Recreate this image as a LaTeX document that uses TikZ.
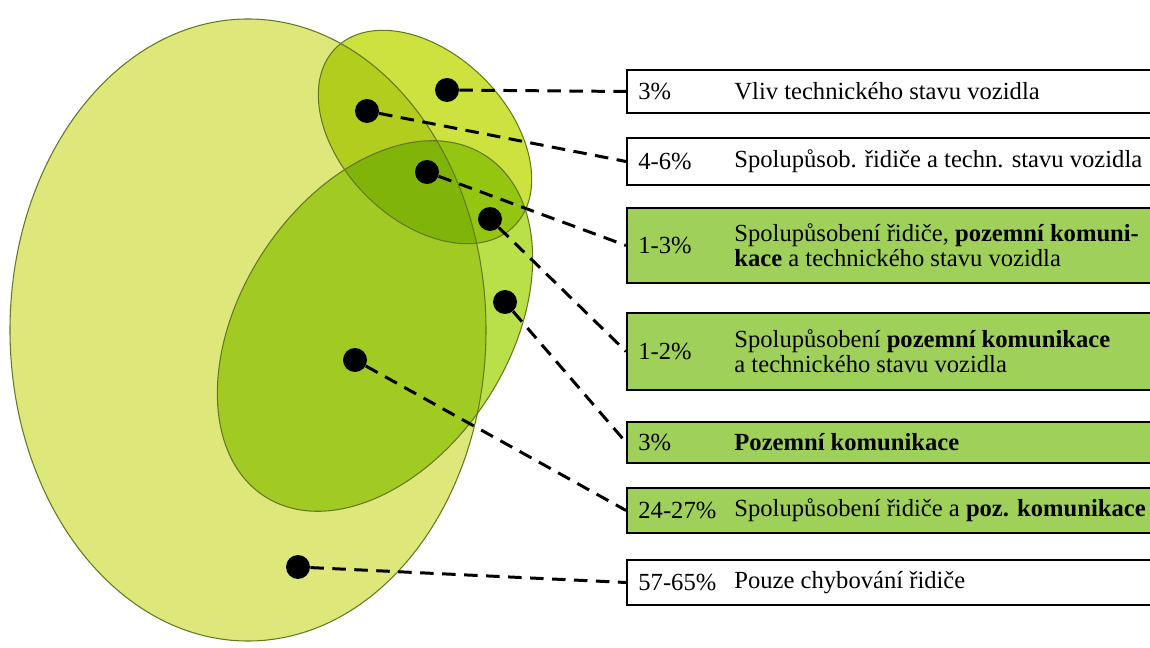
\documentclass[tikz,border=0pt]{standalone}
\usepackage{fontspec}
\setmainfont{Liberation Serif}
\usepackage{xcolor}
\usepackage{tikz}
\usetikzlibrary{positioning, calc}
\definecolor{driverfill}{RGB}{222, 232, 122}
\definecolor{vehiclefill}{RGB}{205, 226, 62}
\definecolor{roadfill}{RGB}{185, 224, 72}
\definecolor{setedge}{RGB}{100, 120, 35}
\definecolor{boxgreen}{RGB}{158, 208, 90}
\newcommand{\boxfont}{\fontsize{14pt}{14.4pt}\selectfont}
\tikzstyle{setline} = [draw=setedge, line width=0.6pt]
\tikzstyle{spot} = [circle, fill=black, minimum size=0.48cm, inner sep=0pt]
\tikzstyle{share} = [rectangle, draw=black, line width=1.1pt, minimum width=10.86cm, inner sep=0pt]
\tikzstyle{pct} = [anchor=west, inner sep=0pt, font=\boxfont]
\tikzstyle{desc} = [anchor=west, inner sep=0pt, align=left, font=\boxfont]
\tikzstyle{leader} = [dash pattern=on 0.27cm off 0.17cm, line width=1.7pt]

\begin{document}
\begin{tikzpicture}[x=0.02cm, y=-0.02cm]
    \clip (0,0) rectangle (1150,648);

    % Sets
    \fill[driverfill] (248,330) ellipse [x radius=238, y radius=311];
    \fill[vehiclefill, blend mode=multiply, rotate around={-45:(425,137)}] (425,137) ellipse [x radius=126, y radius=83];
    \fill[roadfill, blend mode=multiply, rotate around={57:(375,326)}] (375,326) ellipse [x radius=203, y radius=134];
    \draw[setline] (248,330) ellipse [x radius=238, y radius=311];
    \draw[setline, rotate around={-45:(425,137)}] (425,137) ellipse [x radius=126, y radius=83];
    \draw[setline, rotate around={57:(375,326)}] (375,326) ellipse [x radius=203, y radius=134];

    % Points
    \node[spot] (d1) at (447,90) {};
    \node[spot] (d2) at (367,111) {};
    \node[spot] (d3) at (427,172) {};
    \node[spot] (d4) at (490,219) {};
    \node[spot] (d5) at (505,302) {};
    \node[spot] (d6) at (355,360) {};
    \node[spot] (d7) at (298,567) {};

    % Boxes
    \node[share, fill=white, minimum height=0.86cm] (b1) at (898.5,91.5) {};
    \node[share, fill=white, minimum height=0.94cm] (b2) at (898.5,161.5) {};
    \node[share, fill=boxgreen, minimum height=1.5cm] (b3) at (898.5,245.5) {};
    \node[share, fill=boxgreen, minimum height=1.54cm] (b4) at (898.5,351.5) {};
    \node[share, fill=boxgreen, minimum height=0.82cm] (b5) at (898.5,442.5) {};
    \node[share, fill=boxgreen, minimum height=0.9cm] (b6) at (898.5,510.5) {};
    \node[share, fill=white, minimum height=0.9cm] (b7) at (898.5,582.5) {};

    % Labels
    \node[pct, right=0.24cm of b1.west] (p1) {3\%};
    \node[desc, right=2.16cm of b1.west] (t1) {Vliv technického stavu vozidla};
    \node[pct, right=0.24cm of b2.west] (p2) {4-6\%};
    \node[desc, right=2.16cm of b2.west] (t2) {Spolupůsob. řidiče a techn. stavu vozidla};
    \node[pct, right=0.24cm of b3.west] (p3) {1-3\%};
    \node[desc, right=2.16cm of b3.west] (t3) {Spolupůsobení řidiče, \textbf{pozemní komuni-}\\\textbf{kace} a technického stavu vozidla};
    \node[pct, right=0.24cm of b4.west] (p4) {1-2\%};
    \node[desc, right=2.16cm of b4.west] (t4) {Spolupůsobení \textbf{pozemní komunikace}\\a technického stavu vozidla};
    \node[pct, right=0.24cm of b5.west] (p5) {3\%};
    \node[desc, right=2.16cm of b5.west] (t5) {\textbf{Pozemní komunikace}};
    \node[pct, right=0.24cm of b6.west] (p6) {24-27\%};
    \node[desc, right=2.16cm of b6.west] (t6) {Spolupůsobení řidiče a \textbf{poz. komunikace}};
    \node[pct, right=0.24cm of b7.west] (p7) {57-65\%};
    \node[desc, right=2.16cm of b7.west] (t7) {Pouze chybování řidiče};

    % Connectors
    \draw[leader] (d1) -- (b1.west);
    \draw[leader] (d2) -- (b2.west);
    \draw[leader] (d3) -- (b3.west);
    \draw[leader] (d4) -- (b4.west);
    \draw[leader] (d5) -- (b5.west);
    \draw[leader] (d6) -- (b6.west);
    \draw[leader] (d7) -- (b7.west);
\end{tikzpicture}
\end{document}
